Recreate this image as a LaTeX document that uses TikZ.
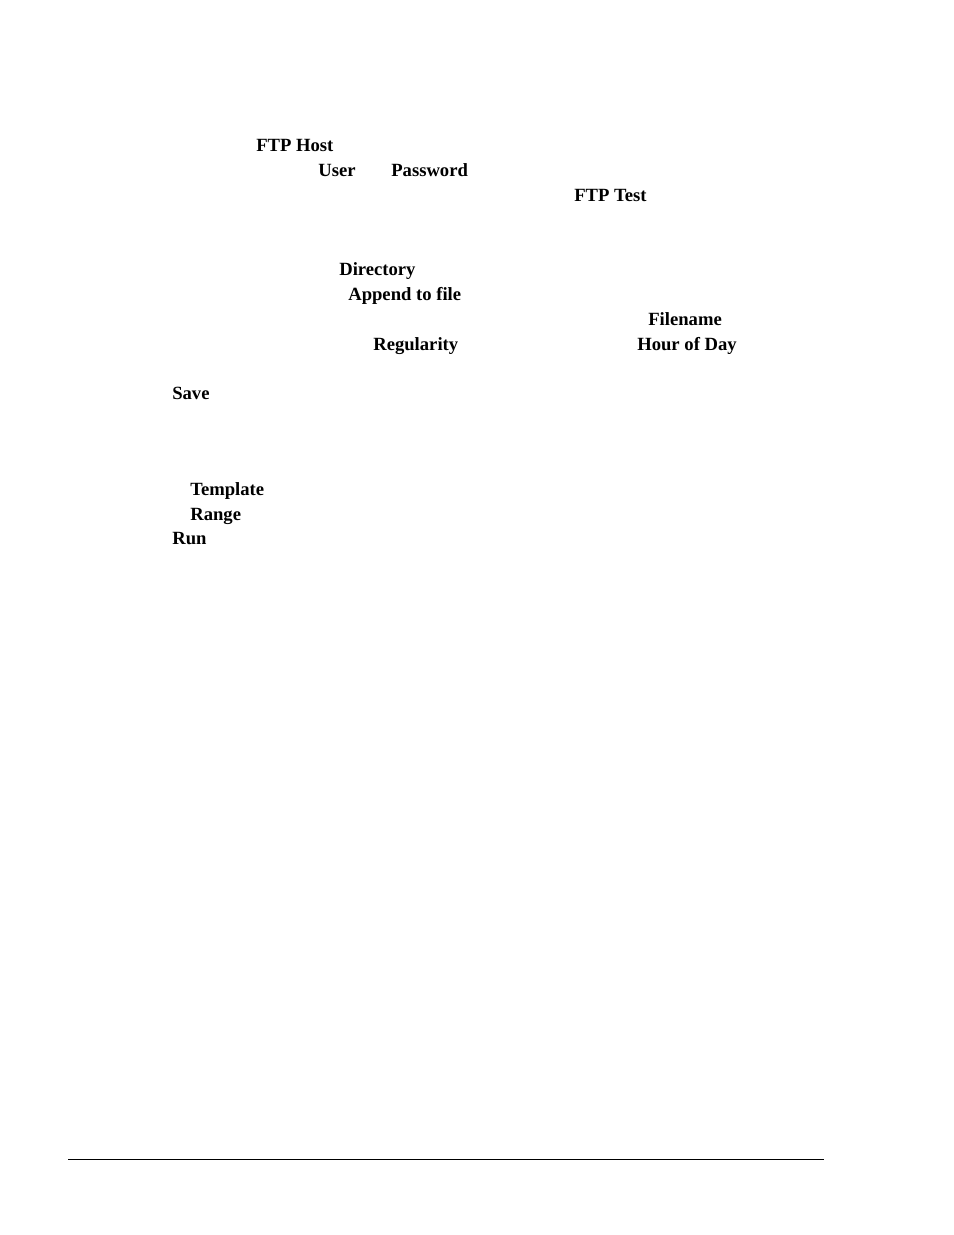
\documentclass[tikz,border=0pt]{standalone}
\usepackage{fontspec}
\setmainfont{Liberation Serif}
\tikzset{
  lbl/.style={anchor=base west,inner sep=0pt,font=\bfseries\fontsize{12pt}{14pt}\selectfont},
}
\begin{document}
\begin{tikzpicture}[x=0.02263cm,y=-0.02263cm]
	\useasboundingbox (0,0) rectangle (954,1235);
	
	\node[lbl] (host) at (256,151) {FTP Host};
	\node[lbl] (user) at (318,176) {User};
	\node[lbl] (pass) at (391,176) {Password};
	\node[lbl] (test) at (574,201) {FTP Test};
	
	\node[lbl] (dir) at (339,275) {Directory};
	\node[lbl] (append) at (348,300) {Append to file};
	\node[lbl] (fname) at (648,325) {Filename};
	\node[lbl] (reg) at (373,350) {Regularity};
	\node[lbl] (hour) at (637,350) {Hour of Day};
	\node[lbl] (save) at (172,399) {Save};
	
	\node[lbl] (tmpl) at (190,495) {Template};
	\node[lbl] (range) at (190,520) {Range};
	\node[lbl] (run) at (172,544) {Run};
	
	\draw[line width=0.6pt] (68,1159) -- (824,1159);
\end{tikzpicture}
\end{document}
